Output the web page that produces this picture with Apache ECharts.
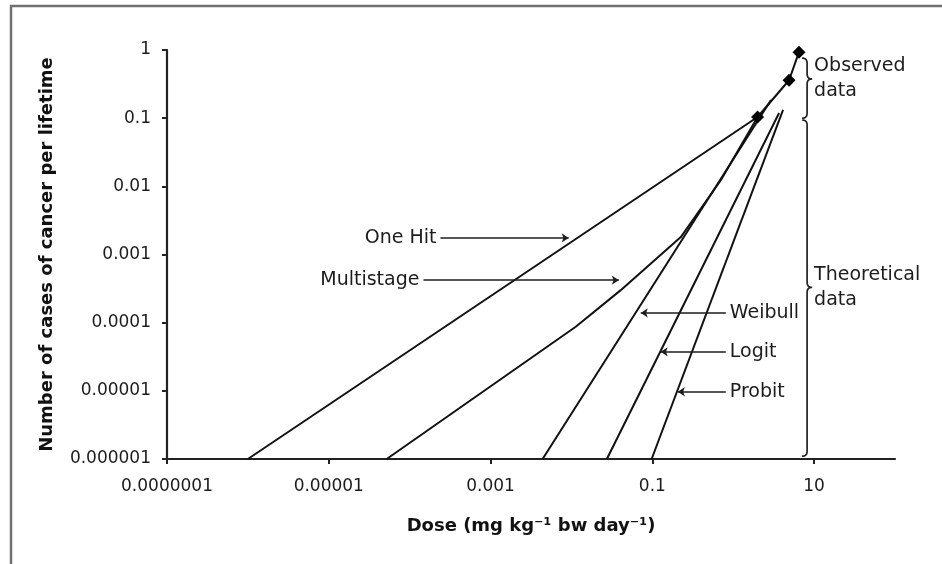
<!DOCTYPE html>
<html>
<head>
<meta charset="utf-8">
<script src="https://cdn.jsdelivr.net/npm/echarts@6/dist/echarts.min.js"></script>
<style>
html,body{margin:0;padding:0;background:#fff;}
#chart{width:942px;height:564px;}
</style>
</head>
<body>
<div id="chart"></div>
<script>
// ---- tick values & labels ----
const xTickValues = [1e-7, 1e-5, 1e-3, 0.1, 10];
const xTickLabels = ['0.0000001', '0.00001', '0.001', '0.1', '10'];
const yTickValues = [1e-6, 1e-5, 1e-4, 1e-3, 1e-2, 0.1, 1];
const yTickLabels = ['0.000001', '0.00001', '0.0001', '0.001', '0.01', '0.1', '1'];

// ---- model curves (dose mg/kg bw/day, lifetime risk) ----
const oneHitDose = [1e-6, 2.0];
const oneHitRisk = [1e-6, 0.104];
const multistageDose = [5.2e-5, 0.0113, 0.0407, 0.225, 0.705, 2.0];
const multistageRisk = [1e-6, 8.7e-5, 3.0e-4, 1.8e-3, 0.0124, 0.104];
const weibullDose = [0.0044, 2.93];
const weibullRisk = [1e-6, 0.185];
const logitDose = [0.0274, 3.69];
const logitRisk = [1e-6, 0.119];
const probitDose = [0.098, 4.13];
const probitRisk = [1e-6, 0.132];

// ---- observed data ----
const observedDose = [2.0, 4.9, 6.5];
const observedRisk = [0.104, 0.36, 0.93];

// ---- annotation arrows: label, y value, arrow start dose, arrow end dose ----
const annotLabels = ['One Hit', 'Multistage', 'Weibull', 'Logit', 'Probit'];
const annotRisk = [1.75e-3, 4.2e-4, 1.39e-4, 3.73e-5, 9.7e-6];
const annotFromDose = [2.4e-4, 1.48e-4, 0.81, 0.81, 0.81];
const annotToDose = [9.25e-3, 0.0385, 0.072, 0.127, 0.207];

// ---- brace groups ----
const braceLabels = ['Observed\ndata', 'Theoretical\ndata'];
const braceTop = [0.76, 0.094];
const braceMid = [0.376, 3.3e-4];
const braceBottom = [0.1, 1.1e-6];
const braceDose = 8.19;
const braceTextDose = 10.0;

const FONT = 'DejaVu Sans';
const INK = '#1c1c1c';

function pairs(xs, ys) { return xs.map((x, i) => [x, ys[i]]); }
function fmt(values, labels) {
  return function (v) {
    const lv = Math.log10(v);
    for (let i = 0; i < values.length; i++) {
      if (Math.abs(Math.log10(values[i]) - lv) < 1e-6) return labels[i];
    }
    return '';
  };
}
function annot(i) {
  return {
    silent: true,
    animation: false,
    symbol: ['none', 'arrow'],
    symbolSize: 7,
    lineStyle: { color: INK, width: 1.6, type: 'solid' },
    label: {
      show: true, position: 'start', distance: 4, formatter: '{b}',
      fontFamily: FONT, fontSize: 19, color: INK
    },
    emphasis: { disabled: true },
    data: [[
      { name: annotLabels[i], coord: [annotFromDose[i], annotRisk[i]] },
      { coord: [annotToDose[i], annotRisk[i]] }
    ]]
  };
}
function modelSeries(name, xs, ys, i) {
  return {
    name: name, type: 'line', data: pairs(xs, ys),
    symbol: 'none', smooth: false,
    lineStyle: { color: '#111', width: 2 },
    emphasis: { disabled: true },
    markLine: annot(i),
    z: 3
  };
}

const chart = echarts.init(document.getElementById('chart'), null, { renderer: 'canvas' });
chart.setOption({
  animation: false,
  backgroundColor: '#ffffff',
  grid: { left: 167, right: 47, top: 50, bottom: 105, containLabel: false, outerBoundsMode: 'none' },
  xAxis: {
    type: 'log', logBase: 10, min: 1e-7, max: 100,
    name: 'Dose (mg kg⁻¹ bw day⁻¹)', nameLocation: 'middle', nameGap: 58,
    nameTextStyle: { fontFamily: FONT, fontWeight: 'bold', fontSize: 18, color: '#111' },
    axisLine: { show: true, lineStyle: { color: '#222', width: 2.2 } },
    axisTick: { show: true, inside: false, length: 5, lineStyle: { color: '#222', width: 2 }, customValues: xTickValues },
    axisLabel: { show: true, margin: 19, fontFamily: FONT, fontSize: 17, color: INK,
      customValues: xTickValues, formatter: fmt(xTickValues, xTickLabels) },
    splitLine: { show: false },
    minorTick: { show: false }
  },
  yAxis: {
    type: 'log', logBase: 10, min: 1e-6, max: 1,
    name: 'Number of cases of cancer per lifetime', nameLocation: 'middle', nameGap: 111, nameRotate: 90,
    nameTextStyle: { fontFamily: FONT, fontWeight: 'bold', fontSize: 18, color: '#111' },
    axisLine: { show: true, lineStyle: { color: '#222', width: 2.2 } },
    axisTick: { show: true, inside: false, length: 5, lineStyle: { color: '#222', width: 2 }, customValues: yTickValues },
    axisLabel: { show: true, margin: 16, fontFamily: FONT, fontSize: 17, color: INK,
      customValues: yTickValues, formatter: fmt(yTickValues, yTickLabels) },
    splitLine: { show: false },
    minorTick: { show: false }
  },
  series: [
    modelSeries('One Hit', oneHitDose, oneHitRisk, 0),
    modelSeries('Multistage', multistageDose, multistageRisk, 1),
    modelSeries('Weibull', weibullDose, weibullRisk, 2),
    modelSeries('Logit', logitDose, logitRisk, 3),
    modelSeries('Probit', probitDose, probitRisk, 4),
    {
      name: 'Observed', type: 'line', data: pairs(observedDose, observedRisk),
      symbol: 'diamond', symbolSize: 13,
      itemStyle: { color: '#000' },
      lineStyle: { color: '#111', width: 2 },
      emphasis: { disabled: true },
      z: 5
    }
  ]
});

// ---- braces & their labels, positioned through the axes ----
function px(x, y) { return chart.convertToPixel({ xAxisIndex: 0, yAxisIndex: 0 }, [x, y]); }
function quad(p0, c, p1, out) {
  for (let t = 1; t <= 8; t++) {
    const s = t / 8, u = 1 - s;
    out.push([u * u * p0[0] + 2 * u * s * c[0] + s * s * p1[0], u * u * p0[1] + 2 * u * s * c[1] + s * s * p1[1]]);
  }
}
function bracePoints(x, yT, yM, yB, w) {
  const pts = [[x - w, yT]];
  quad([x - w, yT], [x, yT], [x, yT + w], pts);
  pts.push([x, yM - w]);
  quad([x, yM - w], [x, yM], [x + w, yM], pts);
  quad([x + w, yM], [x, yM], [x, yM + w], pts);
  pts.push([x, yB - w]);
  quad([x, yB - w], [x, yB], [x - w, yB], pts);
  return pts;
}
const graphics = [{
  type: 'rect', silent: true, z: 10,
  shape: { x: 11, y: 6, width: 1000, height: 1000 },
  style: { fill: null, stroke: '#707070', lineWidth: 2.5 }
}];
for (let i = 0; i < braceLabels.length; i++) {
  const top = px(braceDose, braceTop[i]);
  const mid = px(braceDose, braceMid[i]);
  const bot = px(braceDose, braceBottom[i]);
  graphics.push({
    type: 'polyline', silent: true, z: 10,
    shape: { points: bracePoints(top[0], top[1], mid[1], bot[1], 5) },
    style: { stroke: '#222', lineWidth: 1.7, fill: null }
  });
  const tp = px(braceTextDose, braceMid[i]);
  graphics.push({
    type: 'text', silent: true, z: 10,
    x: tp[0], y: tp[1],
    style: { text: braceLabels[i], fontFamily: FONT, fontSize: 19, fill: INK,
      textAlign: 'left', textVerticalAlign: 'middle', lineHeight: 25 }
  });
}
chart.setOption({ graphic: graphics });
</script>
</body>
</html>
